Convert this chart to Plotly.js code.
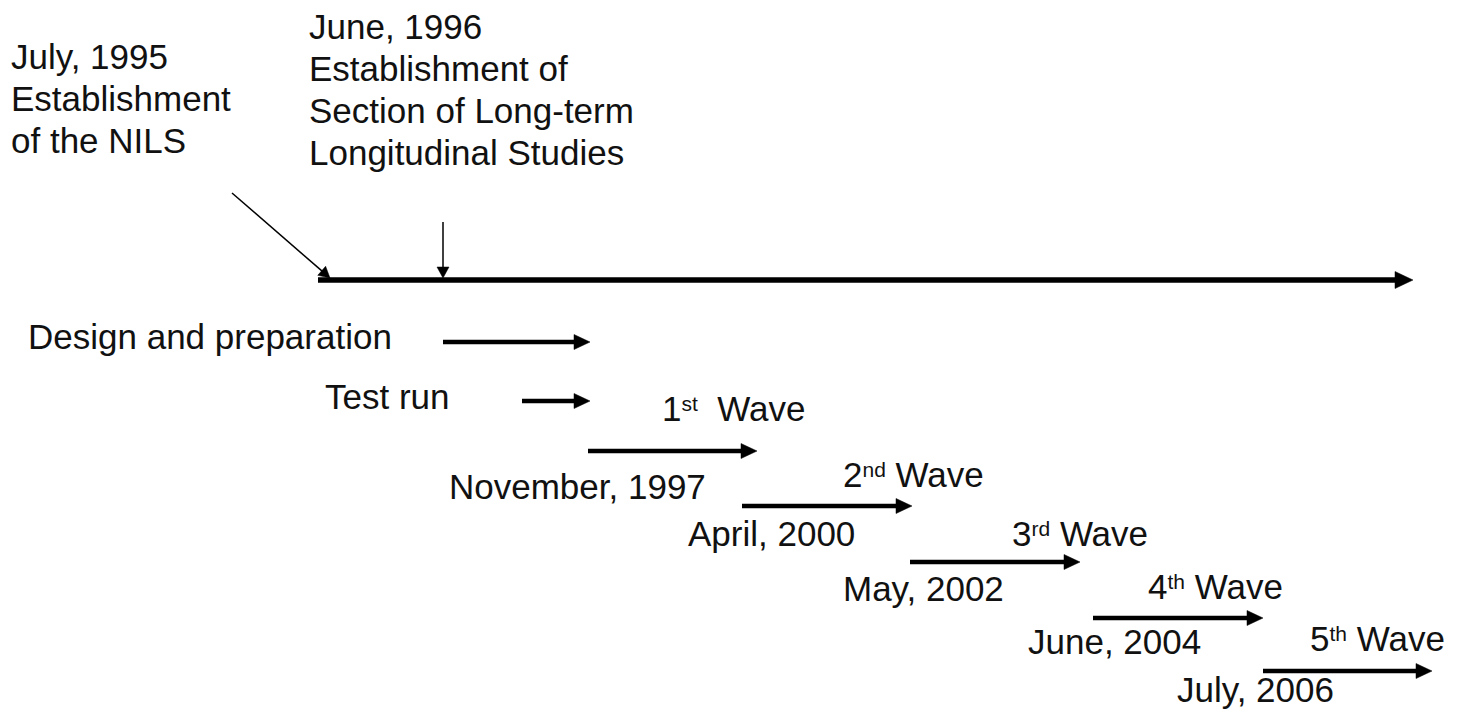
<!DOCTYPE html>
<html>
<head>
<meta charset="utf-8">
<script src="https://cdn.plot.ly/plotly-3.0.1.min.js"></script>
<style>html,body{margin:0;padding:0;background:#fff;}#chart{width:1463px;height:719px;}</style>
</head>
<body>
<div id="chart"></div>
<script>
// ---- Data (schematic timeline positions) ----
const timelineStart = 318;
const timelineEnd = 1413;
const timelineRow = 280;

// Milestones pointing at the main timeline
const milestoneLines = [
  ["July, 1995", "Establishment", "of the NILS"],
  ["June, 1996", "Establishment of", "Section of Long-term", "Longitudinal Studies"]
];
const milestoneTarget = [330, 443];
const milestoneFromX = [232, 443];
const milestoneFromY = [193, 222];
const milestoneTextX = [9, 307];
const milestoneFirstBase = [70, 40];

// Phases (arrows)
const phaseNumbers = ["", "", "1", "2", "3", "4", "5"];
const phaseOrdinals = ["", "", "st", "nd", "rd", "th", "th"];
const phaseWords = ["Design and preparation", "Test run", "&nbsp; Wave", " Wave", " Wave", " Wave", " Wave"];
const phaseStart = [443, 522, 588, 742, 910, 1093, 1263];
const phaseEnd   = [590, 590, 757, 912, 1080, 1263, 1432];
const phaseRow   = [342, 401, 451, 506, 562, 618, 671];
const phaseLabelX = [26, 323, 733, 913, 1080, 1215, 1377];
const phaseLabelBase = [350, 410, 422, 488, 547, 600, 652];
const phaseLabelAnchor = ["left", "left", "center", "center", "center", "center", "center"];

// Start dates of waves
const waveDates = ["November, 1997", "April, 2000", "May, 2002", "June, 2004", "July, 2006"];
const waveDateX = [577, 771, 923, 1114, 1255];
const waveDateBase = [500, 547, 602, 655, 703];

// ---- Style ----
const FONT = {family: "Liberation Sans, Arial, sans-serif", size: 35, color: "#111"};
const SUP_STYLE = "font-size:21px;baseline-shift:10px";
const LINE_PITCH = 42;
const DESC = 8;

const ann = [];
const groups = {};
const heads = {x: [], y: []};

// arrow = shaft (scatter line) + filled head (scatter fill toself), both on the axes
function arrow(group, x0, y0, x1, y1, width, headLen, headW) {
  const dx = x1 - x0, dy = y1 - y0;
  const L = Math.hypot(dx, dy);
  const ux = dx / L, uy = dy / L;
  const bx = x1 - ux * headLen, by = y1 - uy * headLen;
  const px = -uy * headW / 2, py = ux * headW / 2;
  const sx = x1 - ux * headLen * 0.6, sy = y1 - uy * headLen * 0.6;
  if (!groups[group]) groups[group] = {x: [], y: [], width: width};
  groups[group].x.push(x0, sx, null);
  groups[group].y.push(y0, sy, null);
  heads.x.push(x1, bx + px, bx - px, x1, null);
  heads.y.push(y1, by + py, by - py, y1, null);
}

// main timeline
arrow("main", timelineStart, timelineRow, timelineEnd, timelineRow, 5.5, 18, 17);

// milestones
milestoneLines.forEach((lines, i) => {
  arrow("pointer", milestoneFromX[i], milestoneFromY[i], milestoneTarget[i], timelineRow - 2, 1.5, 11, 12);
  lines.forEach((t, k) => {
    ann.push({x: milestoneTextX[i], y: milestoneFirstBase[i] + k * LINE_PITCH + DESC,
      xref: "x", yref: "y", xanchor: "left", yanchor: "bottom", align: "left",
      text: t, showarrow: false, font: FONT});
  });
});

// phases
phaseWords.forEach((w, i) => {
  arrow("phase", phaseStart[i], phaseRow[i], phaseEnd[i], phaseRow[i], 4.5, 16, 15);
  const label = phaseOrdinals[i]
    ? `${phaseNumbers[i]}<span style="${SUP_STYLE}">${phaseOrdinals[i]}</span>${w}`
    : w;
  ann.push({x: phaseLabelX[i], y: phaseLabelBase[i] + DESC, xref: "x", yref: "y",
    xanchor: phaseLabelAnchor[i], yanchor: "bottom", text: label, showarrow: false, font: FONT});
});

// wave dates
waveDates.forEach((t, i) => {
  ann.push({x: waveDateX[i], y: waveDateBase[i] + DESC, xref: "x", yref: "y",
    xanchor: "center", yanchor: "bottom", text: t, showarrow: false, font: FONT});
});

const traces = Object.keys(groups).map(k => ({
  x: groups[k].x, y: groups[k].y, type: "scatter", mode: "lines",
  connectgaps: false, line: {color: "#000", width: groups[k].width}, hoverinfo: "skip"
}));
traces.push({x: heads.x, y: heads.y, type: "scatter", mode: "lines", fill: "toself",
  fillcolor: "#000", line: {color: "#000", width: 0.5}, connectgaps: false, hoverinfo: "skip"});

const layout = {
  width: 1463, height: 719,
  margin: {l: 0, r: 0, t: 0, b: 0},
  paper_bgcolor: "#fff", plot_bgcolor: "#fff",
  xaxis: {range: [0, 1463], visible: false, fixedrange: true},
  yaxis: {range: [719, 0], visible: false, fixedrange: true},
  showlegend: false,
  annotations: ann
};

Plotly.newPlot("chart", traces, layout, {displayModeBar: false, staticPlot: true});
</script>
</body>
</html>
